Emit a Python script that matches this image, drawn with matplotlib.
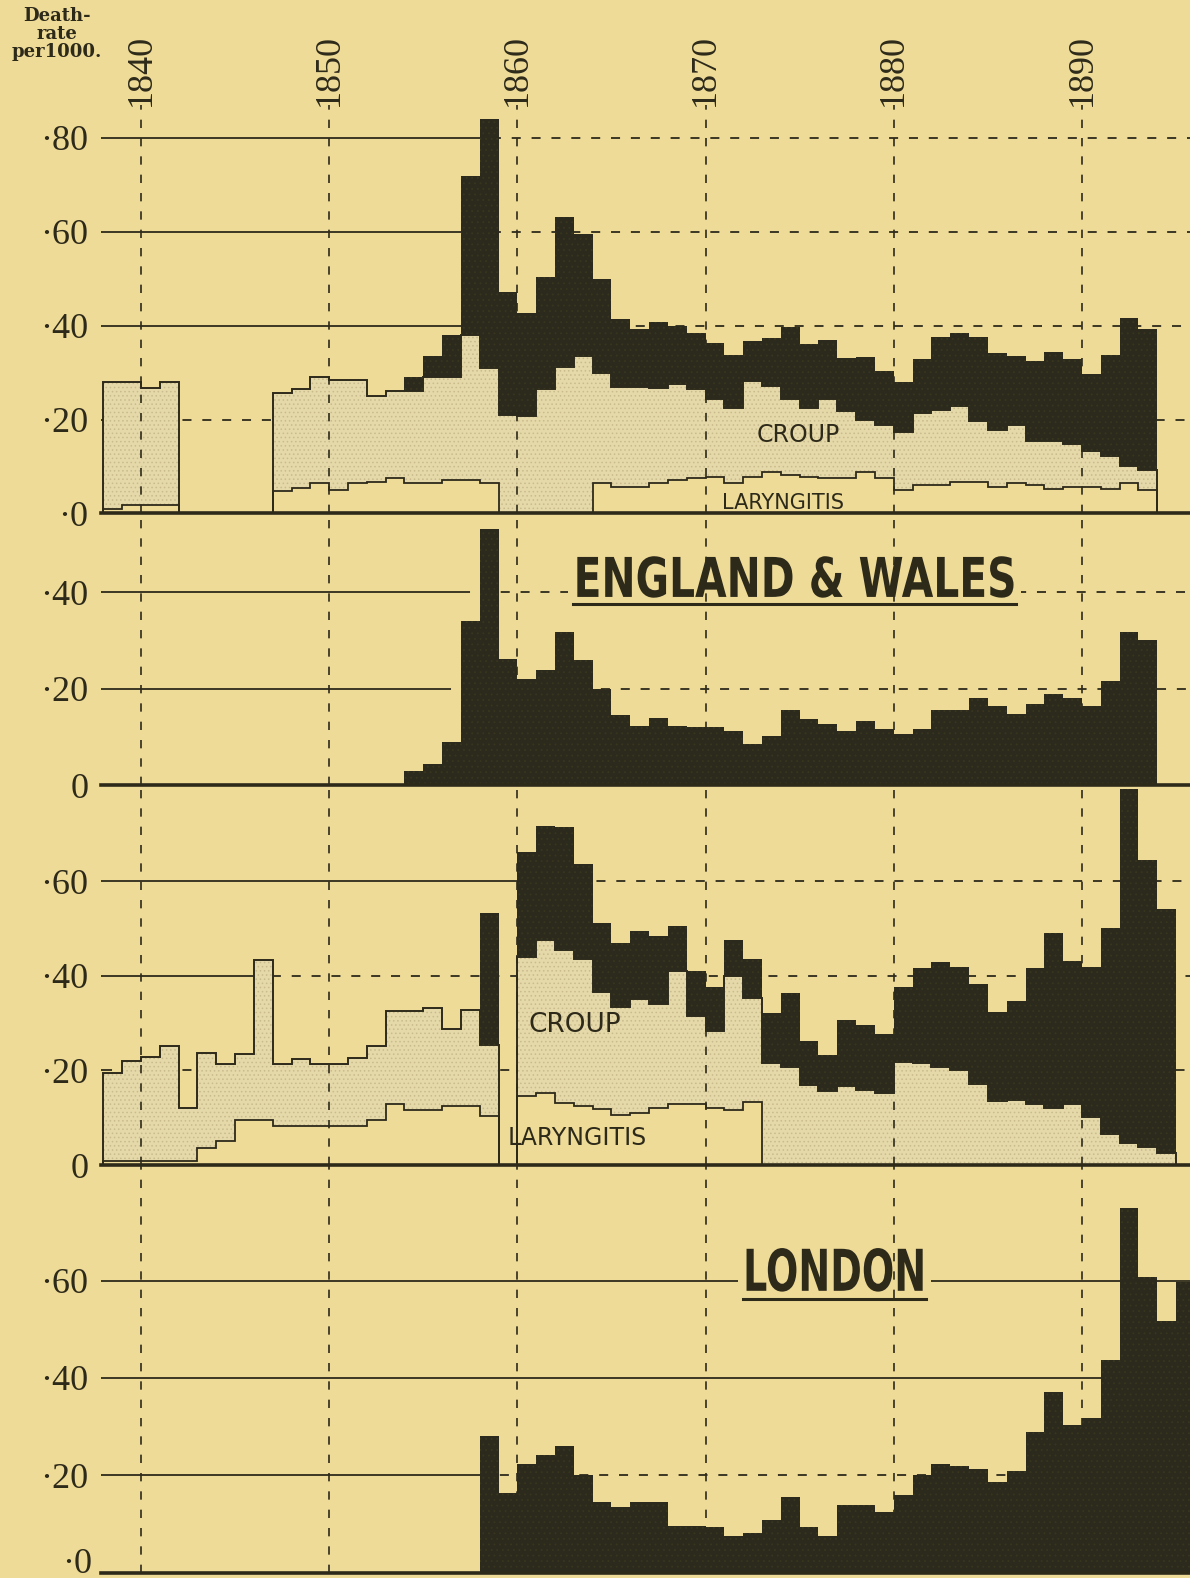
import numpy as np
import matplotlib
matplotlib.use("Agg")
import matplotlib.pyplot as plt
from matplotlib.lines import Line2D
from matplotlib.patches import Rectangle
from matplotlib.patheffects import AbstractPathEffect
from matplotlib.transforms import Affine2D
import matplotlib.transforms as mtransforms

# ---------------- datos (tasa de mortalidad por 1000) ----------------
# England & Wales, 1838-1893 (None = sin dato)
ew_years = np.arange(1838, 1894)
ew_laryngitis = [
    0.010, 0.018, 0.018, 0.018,                                   # 1838-41
    None, None, None, None, None,                                 # 1842-46
    0.047, 0.055, 0.064, 0.050, 0.064, 0.067, 0.075, 0.064,       # 1847-54
    0.064, 0.072, 0.072, 0.064,                                   # 1855-58
    None, None, None, None, None,                                 # 1859-63
    0.064, 0.056, 0.056, 0.064, 0.072, 0.075, 0.078, 0.064, 0.078, 0.089,
    0.082, 0.078, 0.075, 0.075, 0.089, 0.075, 0.049, 0.060, 0.060, 0.067,
    0.067, 0.056, 0.065, 0.060, 0.053, 0.056, 0.056, 0.053, 0.064, 0.049,
]
ew_croup = [
    0.270, 0.263, 0.249, 0.261,
    None, None, None, None, None,
    0.209, 0.211, 0.226, 0.234, 0.220, 0.183, 0.185, 0.196,
    0.226, 0.218, 0.308, 0.246,
    0.210, 0.207, 0.265, 0.313, 0.335,
    0.236, 0.214, 0.214, 0.204, 0.204, 0.190, 0.165, 0.161, 0.205, 0.183,
    0.161, 0.147, 0.168, 0.143, 0.111, 0.113, 0.125, 0.154, 0.161, 0.162,
    0.129, 0.121, 0.123, 0.095, 0.102, 0.092, 0.077, 0.069, 0.036, 0.044,
]
ew_diphtheria = [
    0, 0, 0, 0,
    None, None, None, None, None,
    0, 0, 0, 0, 0, 0, 0, 0.030,
    0.045, 0.090, 0.340, 0.530,
    0.262, 0.220, 0.238, 0.318, 0.260,
    0.200, 0.145, 0.123, 0.140, 0.123, 0.120, 0.120, 0.113, 0.085, 0.102,
    0.155, 0.137, 0.127, 0.113, 0.134, 0.116, 0.106, 0.116, 0.155, 0.155,
    0.180, 0.165, 0.148, 0.169, 0.190, 0.180, 0.165, 0.215, 0.317, 0.300,
]

# London, 1838-1895
lon_years = np.arange(1838, 1896)
lon_laryngitis = [
    0.008, 0.008, 0.008, 0.008, 0.008,                            # 1838-42
    0.035, 0.050, 0.095, 0.095, 0.082, 0.082, 0.082, 0.082, 0.082, 0.095,
    0.130, 0.117, 0.117, 0.125, 0.125, 0.103,                     # 1853-58
    None,                                                         # 1859
    0.145, 0.153, 0.132, 0.125, 0.119, 0.106, 0.110, 0.120, 0.130, 0.130,
    0.120, 0.116, 0.134,                                          # 1870-72
] + [None] * 23                                                   # 1873-95
lon_croup = [
    0.187, 0.212, 0.220, 0.244, 0.112,
    0.201, 0.163, 0.140, 0.339, 0.131, 0.143, 0.132, 0.132, 0.144, 0.156,
    0.195, 0.208, 0.215, 0.163, 0.202, 0.150,
    None,
    0.295, 0.322, 0.322, 0.311, 0.247, 0.229, 0.240, 0.220, 0.280, 0.185,
    0.163, 0.284, 0.219,
    0.215, 0.208, 0.170, 0.157, 0.168, 0.158, 0.152, 0.218, 0.216, 0.208,
    0.200, 0.171, 0.136, 0.138, 0.128, 0.120, 0.128, 0.102, 0.066, 0.046,
    0.037, 0.025,
    None,
]
lon_diphtheria = [0] * 20 + [
    0.280, 0.163,
    0.222, 0.241, 0.261, 0.201, 0.145, 0.135, 0.145, 0.145, 0.096, 0.096,
    0.093, 0.075, 0.082, 0.107, 0.156, 0.093, 0.075, 0.138, 0.138, 0.124,
    0.159, 0.201, 0.222, 0.219, 0.212, 0.187, 0.208, 0.289, 0.370, 0.303,
    0.317, 0.436, 0.749, 0.608, 0.517, 0.598,
]

decades = [1840, 1850, 1860, 1870, 1880, 1890]

# ---------------- estilo ----------------
BG = "#eedb98"
INK = "#2e2a1a"
DARK = "#2b2a1c"
CROUP_FILL = "#e5d8a9"
SERIF = "Liberation Serif"
plt.rcParams["hatch.linewidth"] = 0.6

W, H = 1190, 1578
LEFT = 101
X0, X1 = 1837.875, 1895.74

fig = plt.figure(figsize=(W / 100, H / 100), dpi=100, facecolor=BG)


class HSqueeze(AbstractPathEffect):
    """estrecha el texto en horizontal (letra condensada de los titulos)"""

    def __init__(self, sx):
        super().__init__()
        self.sx = sx

    def draw_path(self, renderer, gc, tpath, affine, rgbFace=None):
        ext = tpath.get_extents()
        c = (ext.x0 + ext.x1) / 2
        sq = Affine2D().translate(-c, 0).scale(self.sx, 1).translate(c, 0)
        renderer.draw_path(gc, tpath, sq + affine, rgbFace)


def make_axes(top, bottom, zero, ppu):
    ax = fig.add_axes([LEFT / W, 1 - bottom / H, (W - LEFT) / W, (bottom - top) / H])
    ax.set_facecolor("none")
    ax.set_xlim(X0, X1)
    ax.set_ylim((zero - bottom) / ppu, (zero - top) / ppu)
    for sp in ax.spines.values():
        sp.set_visible(False)
    ax.set_xticks([])
    ax.tick_params(axis="y", length=0, pad=9)
    return ax


def segments(mask):
    out, start = [], None
    for i, m in enumerate(mask):
        if m and start is None:
            start = i
        if not m and start is not None:
            out.append((start, i))
            start = None
    if start is not None:
        out.append((start, len(mask)))
    return out


def grid(ax, ticks, labels, solid_until, ymax_lines):
    ax.set_yticks(ticks)
    ax.set_yticklabels(labels, fontfamily=SERIF, fontsize=26, color=INK)
    for v in ticks[1:]:
        s = solid_until.get(v, X1)
        ax.hlines(v, X0, s, color=INK, lw=1.3, zorder=1)
        if s < X1:
            ax.hlines(v, s, X1, color=INK, lw=1.3, linestyles=(0, (5, 6)), zorder=1)
    ax.axhline(0, color=INK, lw=2.6, zorder=6, clip_on=False)
    ax.vlines(decades, 0, ymax_lines, color=INK, lw=1.2,
              linestyles=(0, (5, 6)), zorder=3.5)


def stacked(ax, years, lar, croup, diph):
    lar = np.array(lar, dtype=float)
    croup = np.array(croup, dtype=float)
    diph = np.array(diph, dtype=float)
    lar0 = np.where(np.isnan(lar), 0, lar)
    ok = ~np.isnan(croup)
    ax.bar(years[ok], croup[ok], bottom=lar0[ok], width=1, align="edge",
           facecolor=CROUP_FILL, edgecolor="#c9bb8c", hatch="....", lw=0, zorder=2)
    top = lar0 + np.where(ok, croup, 0)
    for s, e in segments(ok):
        edges = np.append(years[s:e], years[e - 1] + 1)
        ax.stairs(top[s:e], edges, baseline=0, fill=False, color=INK, lw=1.4, zorder=3)
    for s, e in segments(~np.isnan(lar)):
        edges = np.append(years[s:e], years[e - 1] + 1)
        ax.stairs(lar[s:e], edges, baseline=0, fill=False, color=INK, lw=1.3, zorder=3)
    d = ok & (np.nan_to_num(diph) > 0)
    ax.bar(years[d], diph[d], bottom=top[d], width=1, align="edge",
           facecolor=DARK, edgecolor="#39361f", hatch="...", lw=0, zorder=4)


def single(ax, years, diph):
    diph = np.array(diph, dtype=float)
    d = np.nan_to_num(diph) > 0
    ax.bar(years[d], diph[d], width=1, align="edge", facecolor=DARK,
           edgecolor="#39361f", hatch="...", lw=0, zorder=4)


def title(ax, x, y, s, size, target_w, cap_px, ul_off):
    t = ax.text(x, y, s, ha="center", va="baseline", fontsize=size,
                fontweight="bold", color=INK, zorder=5)
    fig.canvas.draw()
    bb = t.get_window_extent(fig.canvas.get_renderer())
    t.set_path_effects([HSqueeze(target_w / bb.width)])
    cx = (bb.x0 + bb.x1) / 2
    xb, yb = ax.transData.transform((x, y))
    inv = fig.transFigure.inverted()
    # fondo que interrumpe la reticula detras del titulo
    (fx0, fy0), (fx1, fy1) = inv.transform([(cx - target_w / 2 - 5, yb - 4),
                                            (cx + target_w / 2 + 5, yb + cap_px + 4)])
    ax.add_patch(Rectangle((fx0, fy0), fx1 - fx0, fy1 - fy0, transform=fig.transFigure,
                           facecolor=BG, edgecolor="none", zorder=1.5))
    # subrayado
    (ux0, uy), (ux1, _) = inv.transform([(cx - target_w / 2, yb - ul_off),
                                         (cx + target_w / 2, yb - ul_off)])
    fig.add_artist(Line2D([ux0, ux1], [uy, uy], transform=fig.transFigure,
                          color=INK, lw=2.2, zorder=7))


# ---------------- panel 1: England & Wales, croup + laringitis + difteria ----------------
ax1 = make_axes(95, 513.4, 513.4, 469.25)
grid(ax1, [0, .2, .4, .6, .8], ["·0", "·20", "·40", "·60", "·80"],
     {.8: 1857.6, .6: 1857.6, .4: 1856.8, .2: 1838.0}, 0.87)
stacked(ax1, ew_years, ew_laryngitis, ew_croup, ew_diphtheria)
ax1.text(1874.9, 0.167, "CROUP", ha="center", va="center", fontsize=17,
         color=INK, zorder=5)
ax1.text(1874.1, 0.022, "LARYNGITIS", ha="center", va="center", fontsize=15,
         color=INK, zorder=5)

# ---------------- panel 2: England & Wales, difteria ----------------
ax2 = make_axes(513.4, 785.3, 785.3, 483)
grid(ax2, [0, .2, .4], ["0", "·20", "·40"], {.4: 1857.0, .2: 1856.0}, 1)
single(ax2, ew_years, ew_diphtheria)

# ---------------- panel 3: London, croup + laringitis + difteria ----------------
ax3 = make_axes(785.3, 1165, 1165, 473)
grid(ax3, [0, .2, .4, .6], ["0", "·20", "·40", "·60"],
     {.6: 1860.0, .4: 1845.9, .2: 1838.0}, 1)
stacked(ax3, lon_years, lon_laryngitis, lon_croup, lon_diphtheria)
ax3.text(1863.06, 0.296, "CROUP", ha="center", va="center", fontsize=19,
         color=INK, zorder=5)
ax3.text(1863.19, 0.058, "LARYNGITIS", ha="center", va="center", fontsize=17,
         color=INK, zorder=5)

# ---------------- panel 4: London, difteria ----------------
ax4 = make_axes(1165, 1578, 1572.5, 486.5)
grid(ax4, [0, .2, .4, .6], ["", "·20", "·40", "·60"], {.2: 1858.0}, 1)
single(ax4, lon_years, lon_diphtheria)
ax4.annotate("·0", xy=(0, 0), xycoords=("axes fraction", "data"), xytext=(-6.5, 6),
             textcoords="offset points", ha="right", va="center",
             fontsize=26, fontfamily=SERIF, color=INK, annotation_clip=False)

# titulos condensados y subrayados
title(ax2, 1874.75, 0.39, "ENGLAND & WALES", 39.5, 443, 40, 7)
title(ax4, 1876.85, 0.579, "LONDON", 41.5, 183, 42, 8)

# ---------------- rotulos de años y eje ----------------
trans = mtransforms.blended_transform_factory(ax1.transData, fig.transFigure)
for yr in decades:
    fig.text(yr, 1 - 70 / H, str(yr), transform=trans, rotation=90,
             ha="center", va="center", fontsize=26, fontfamily=SERIF, color=INK)

for txt, ypix in (("Death-", 16), ("rate", 34), ("per1000.", 52)):
    fig.text(57 / W, 1 - ypix / H, txt, ha="center", va="center",
             fontsize=13, fontweight="bold", fontfamily="DejaVu Serif", color=INK)

fig.savefig("out.png", dpi=100, facecolor=BG)
